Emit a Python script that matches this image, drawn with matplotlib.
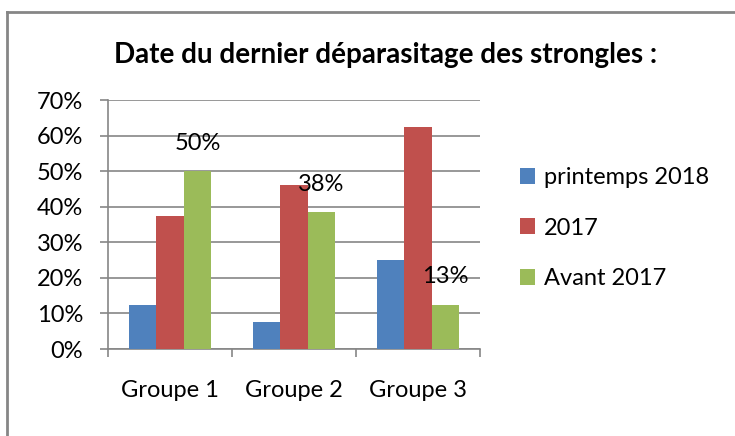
import matplotlib.pyplot as plt
from matplotlib.lines import Line2D
from matplotlib.ticker import PercentFormatter
import numpy as np

groupes = ["Groupe 1", "Groupe 2", "Groupe 3"]
series = ["printemps 2018", "2017", "Avant 2017"]
printemps_2018 = [12.5, 7.7, 25.0]
annee_2017 = [37.5, 46.2, 62.5]
avant_2017 = [50.0, 38.5, 12.5]
labels_avant = ["50%", "38%", "13%"]

couleurs = ["#4F81BD", "#C0504D", "#9BBB59"]
gris = "#868686"

plt.rcParams['font.family'] = ['Lato', 'DejaVu Sans']

fig = plt.figure(figsize=(7.35, 4.36), dpi=100)
ax = fig.add_axes([0.147, 0.1995, 0.506, 0.571])

x = np.arange(len(groupes)) + 0.5
w = 1 / 4.5
valeurs = [printemps_2018, annee_2017, avant_2017]
barres = []
for i, (nom, vals) in enumerate(zip(series, valeurs)):
    b = ax.bar(x + (i - 1) * w, vals, w, color=couleurs[i], label=nom, zorder=3)
    barres.append(b)

# étiquettes de la série "Avant 2017"
for rect, lab in zip(barres[2], labels_avant):
    ax.annotate(lab, (rect.get_x() + rect.get_width() / 2, rect.get_height()),
                xytext=(0, 28), textcoords="offset pixels",
                ha="center", va="center", fontsize=17, zorder=4)

ax.set_xlim(0, 3)
ax.set_ylim(0, 70)
ax.set_yticks(range(0, 71, 10))
ax.yaxis.set_major_formatter(PercentFormatter(decimals=0))
ax.yaxis.grid(True, color=gris, linewidth=1.2, zorder=0)
ax.set_xticks([0, 1, 2, 3])
ax.set_xticklabels([])
ax.set_xticks(x, minor=True)
ax.set_xticklabels(groupes, minor=True)
ax.tick_params(axis="x", which="minor", length=0, pad=22, labelsize=17)
ax.tick_params(axis="x", which="major", length=6, color=gris, width=1.2)
ax.tick_params(axis="y", length=6, color=gris, width=1.2, labelsize=17, pad=12)
for s in ["top", "right"]:
    ax.spines[s].set_visible(False)
for s in ["left", "bottom"]:
    ax.spines[s].set_color(gris)
    ax.spines[s].set_linewidth(1.2)

fig.text(0.525, 0.873, "Date du dernier déparasitage des strongles :",
         ha="center", va="center", fontsize=20, fontweight="bold")

leg = fig.legend(loc="center left", bbox_to_anchor=(0.708, 0.477), frameon=False,
                 fontsize=17, handlelength=0.64, handleheight=0.64,
                 handletextpad=0.35, labelspacing=1.25,
                 borderpad=0, borderaxespad=0)

fig.add_artist(Line2D([0.009, 1.0], [0.972, 0.972], color=gris, linewidth=2))
fig.add_artist(Line2D([0.009, 0.009], [0.0, 0.972], color=gris, linewidth=2))

fig.savefig("out.png", dpi=100)
